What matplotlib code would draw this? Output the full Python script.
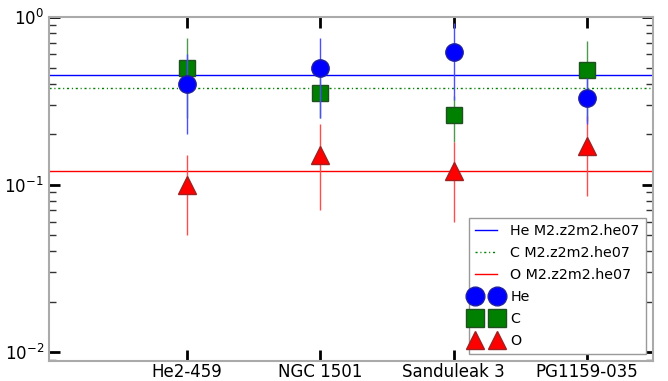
import numpy as np
import matplotlib
matplotlib.use("Agg")
import matplotlib.pyplot as plt
from matplotlib.lines import Line2D
from matplotlib.legend_handler import HandlerLine2D

stars = ["He2-459", "NGC 1501", "Sanduleak 3", "PG1159-035"]
he = [0.40, 0.50, 0.62, 0.33]
he_err = [0.20, 0.25, 0.30, 0.10]
c = [0.50, 0.35, 0.26, 0.48]
c_err = [0.25, 0.10, 0.08, 0.24]
o = [0.10, 0.15, 0.12, 0.17]
o_err = [0.05, 0.08, 0.06, 0.085]
model_he = 0.45
model_c = 0.375
model_o = 0.12

x = np.arange(1, len(stars) + 1)

fig, ax = plt.subplots(figsize=(6.68, 3.81), dpi=100)
fig.subplots_adjust(left=0.073, right=0.978, top=0.955, bottom=0.052)

l1 = ax.axhline(model_he, color="blue", lw=1, label="He M2.z2m2.he07")
l2 = ax.axhline(model_c, color="green", lw=1, ls=(0, (1.5, 2, 0.8, 2)), label="C M2.z2m2.he07")
l3 = ax.axhline(model_o, color="red", lw=1, label="O M2.z2m2.he07")

ax.errorbar(x, he, yerr=he_err, fmt="o", color="blue", ms=12.5, mec="#2020a0",
            ecolor=(0.3, 0.3, 1.0), elinewidth=1, zorder=4)
ax.errorbar(x, c, yerr=c_err, fmt="s", color="green", ms=12, mec="#205020",
            ecolor=(0.3, 0.6, 0.3), elinewidth=1, zorder=3)
ax.errorbar(x, o, yerr=o_err, fmt="^", color="red", ms=12.5, mec="#a02020",
            ecolor=(1.0, 0.3, 0.3), elinewidth=1, zorder=3)

# legend proxies (markers only)
m1 = Line2D([], [], ls="none", marker="o", color="blue", mec="#2020a0", ms=13.5, label="He")
m2 = Line2D([], [], ls="none", marker="s", color="green", mec="#205020", ms=13, label="C")
m3 = Line2D([], [], ls="none", marker="^", color="red", mec="#a02020", ms=13.5, label="O")

ax.set_yscale("log")
ax.set_ylim(0.0088, 1.0)
ax.set_xlim(-0.04, 4.5)
ax.set_xticks(x)
ax.set_xticklabels(stars, fontsize=12)
ax.tick_params(axis="both", which="major", direction="in", length=8, width=2,
               top=True, right=True, labelsize=12, color="black")
ax.tick_params(axis="x", which="major", pad=1.5)
ax.tick_params(axis="y", which="minor", direction="in", length=5, width=1,
               right=True, color="#333333")
ax.tick_params(axis="x", which="minor", bottom=False, top=False)
for s in ax.spines.values():
    s.set_color("#aaaaaa")
    s.set_linewidth(1.5)

leg = ax.legend(handles=[l1, l2, l3, m1, m2, m3], loc="lower right", numpoints=2,
                fontsize=10.3, fancybox=False, framealpha=1, edgecolor="#999999",
                handlelength=1.55, handletextpad=0.9, labelspacing=0.55,
                borderaxespad=0.5, borderpad=0.45,
                handler_map={Line2D: HandlerLine2D(marker_pad=0, numpoints=2)})
leg.get_frame().set_linewidth(1)

fig.savefig("out.png", dpi=100)
